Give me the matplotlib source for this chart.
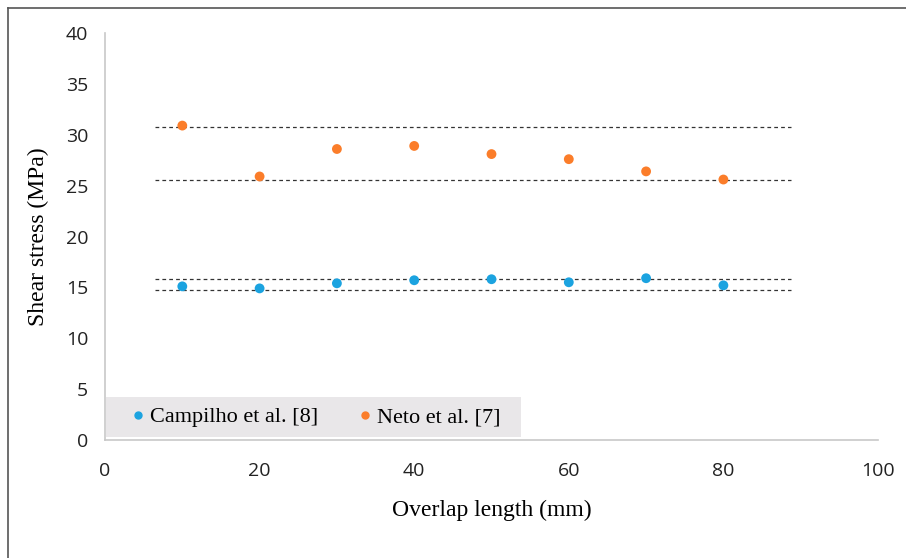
import matplotlib
matplotlib.use("Agg")
import matplotlib.pyplot as plt
from matplotlib.lines import Line2D
from matplotlib.patches import Rectangle

overlap = [10, 20, 30, 40, 50, 60, 70, 80]
campilho = [15.1, 14.9, 15.4, 15.7, 15.8, 15.5, 15.9, 15.2]
neto = [30.9, 25.9, 28.6, 28.9, 28.1, 27.6, 26.4, 25.6]
band_campilho = [14.7, 15.85]
band_neto = [25.55, 30.8]
band_x = [6.5, 88.7]
xticks = [0, 20, 40, 60, 80, 100]
yticks = [0, 5, 10, 15, 20, 25, 30, 35, 40]

blue = "#1BA3E0"
orange = "#FB7D2A"

fig = plt.figure(figsize=(9.06, 5.58), dpi=100)
ax = fig.add_axes([105/906, 1-440/558, (878-105)/906, (440-33)/558])

for y in band_neto + band_campilho:
    ax.plot(band_x, [y, y], color="#333333", lw=0.9, ls=(0, (3, 2.5)), zorder=1)

ax.scatter(overlap, campilho, s=50, color=blue, edgecolors="none", zorder=3, label="Campilho et al. [8]")
ax.scatter(overlap, neto, s=50, color=orange, edgecolors="none", zorder=3, label="Neto et al. [7]")

ax.set_xlim(0, 100)
ax.set_ylim(0, 40)
ax.set_xticks(xticks)
ax.set_yticks(yticks)
ax.tick_params(length=0, labelsize=14, colors="#222222")
ax.tick_params(axis="x", pad=16)
ax.tick_params(axis="y", pad=12)
for lab in ax.get_xticklabels() + ax.get_yticklabels():
    lab.set_family("Open Sans")
for s in ["top", "right"]:
    ax.spines[s].set_visible(False)
for s in ["left", "bottom"]:
    ax.spines[s].set_color("#C8C8C8")
    ax.spines[s].set_linewidth(1.2)

ax.set_xlabel("Overlap length (mm)", family="Liberation Serif", fontsize=17, labelpad=14)
ax.set_ylabel("Shear stress (MPa)", family="Liberation Serif", fontsize=17, labelpad=12)

# legend background box
leg_bg = Rectangle((106/906, 1-437/558), (521-106)/906, 40/558, transform=fig.transFigure,
                   facecolor="#E9E7E9", edgecolor="none", zorder=2)
fig.patches.append(leg_bg)
handles = [Line2D([], [], marker="o", ls="none", color=blue, markersize=5),
           Line2D([], [], marker="o", ls="none", color=orange, markersize=5)]
leg = fig.legend(handles, ["Campilho et al. [8]", "Neto et al. [7]"], ncol=2,
                 loc="center", bbox_to_anchor=((106+521)/2/906, 1-417/558),
                 frameon=False, prop={"family": "Liberation Serif", "size": 16},
                 handletextpad=0.05, columnspacing=1.6, handlelength=1.0)

# outer border lines
fig.add_artist(Line2D([8/906, 8/906], [0, 1-8/558], transform=fig.transFigure, color="#555555", lw=1.2))
fig.add_artist(Line2D([8/906, 1], [1-8/558, 1-8/558], transform=fig.transFigure, color="#555555", lw=1.2))

fig.savefig("out.png", dpi=100)
